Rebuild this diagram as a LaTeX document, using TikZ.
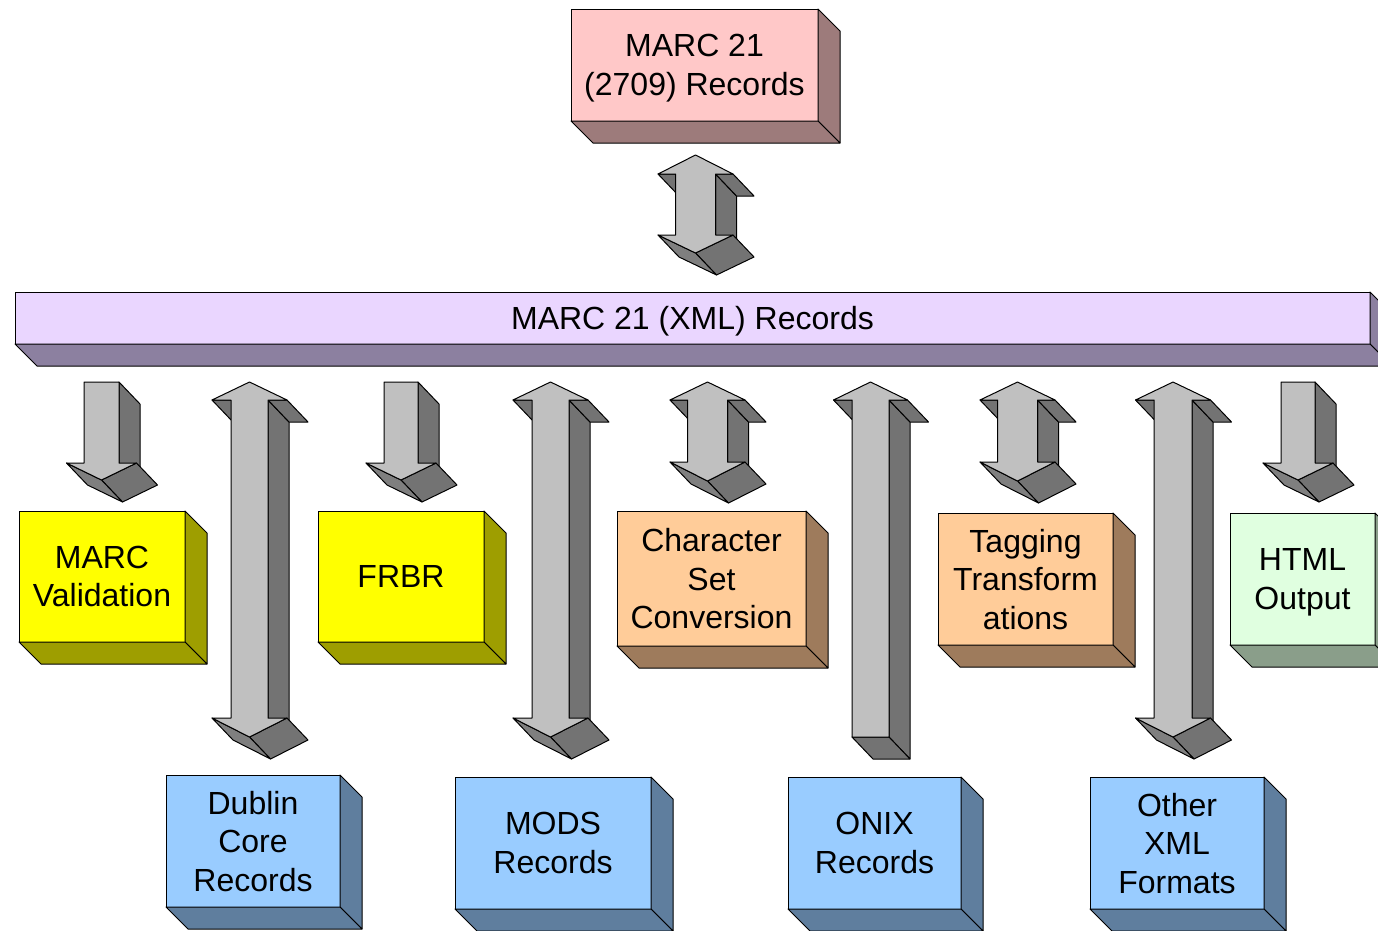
\documentclass[tikz,border=0pt]{standalone}
\usepackage{fontspec}
\setmainfont{Liberation Sans}

% fronts and shaded sides of the 3D blocks
\definecolor{pinkF}{HTML}{FFC8C8}\definecolor{pinkS}{HTML}{9D7B7B}
\definecolor{lilacF}{HTML}{EAD6FF}\definecolor{lilacS}{HTML}{8C80A0}
\definecolor{yellowF}{HTML}{FFFF00}\definecolor{yellowS}{HTML}{9E9E00}
\definecolor{orangeF}{HTML}{FFCC99}\definecolor{orangeS}{HTML}{9E7B5C}
\definecolor{mintF}{HTML}{E0FFE0}\definecolor{mintS}{HTML}{8A9E8A}
\definecolor{blueF}{HTML}{99CCFF}\definecolor{blueS}{HTML}{5F7E9E}
\definecolor{arrowF}{HTML}{C0C0C0}\definecolor{arrowS}{HTML}{737373}
\definecolor{arrowT}{HTML}{7F7F7F}

% depth of the extrusion
\def\dx{21}
\def\dy{22}

% two-headed block arrow: cx, shaft half width, head half width, top tip, top base, bottom base, bottom tip
\newcommand\blocktwoway[7]{%
  \path[aside] ({#1+#2},#5) -- ({#1+#2},#6) -- ({#1+#2+\dx},{#6+\dy}) -- ({#1+#2+\dx},{#5+\dy}) -- cycle;
  \path[aside] ({#1+#3},#5) -- ({#1+#2},#5) -- ({#1+#2+\dx},{#5+\dy}) -- ({#1+#3+\dx},{#5+\dy}) -- cycle;
  \path[aside] ({#1-#2},#5) -- ({#1-#3},#5) -- ({#1-#3+\dx},{#5+\dy}) -- ({#1-#2+\dx},{#5+\dy}) -- cycle;
  \path[aside] ({#1+#3},#6) -- (#1,#7) -- ({#1+\dx},{#7+\dy}) -- ({#1+#3+\dx},{#6+\dy}) -- cycle;
  \path[atilt] (#1,#7) -- ({#1-#3},#6) -- ({#1-#3+\dx},{#6+\dy}) -- ({#1+\dx},{#7+\dy}) -- cycle;
  \path[afront] (#1,#4) -- ({#1+#3},#5) -- ({#1+#2},#5) -- ({#1+#2},#6) -- ({#1+#3},#6)
    -- (#1,#7) -- ({#1-#3},#6) -- ({#1-#2},#6) -- ({#1-#2},#5) -- ({#1-#3},#5) -- cycle;
}
% downward block arrow: cx, shaft half width, head half width, top, head base, tip
\newcommand\blockdown[6]{%
  \path[aside] ({#1+#2},#4) -- ({#1+#2},#5) -- ({#1+#2+\dx},{#5+\dy}) -- ({#1+#2+\dx},{#4+\dy}) -- cycle;
  \path[aside] ({#1+#3},#5) -- (#1,#6) -- ({#1+\dx},{#6+\dy}) -- ({#1+#3+\dx},{#5+\dy}) -- cycle;
  \path[atilt] (#1,#6) -- ({#1-#3},#5) -- ({#1-#3+\dx},{#5+\dy}) -- ({#1+\dx},{#6+\dy}) -- cycle;
  \path[afront] ({#1-#2},#4) -- ({#1+#2},#4) -- ({#1+#2},#5) -- ({#1+#3},#5) -- (#1,#6)
    -- ({#1-#3},#5) -- ({#1-#2},#5) -- cycle;
}
% upward block arrow: cx, shaft half width, head half width, tip, head base, bottom
\newcommand\blockup[6]{%
  \path[aside] ({#1+#2},#5) -- ({#1+#2},#6) -- ({#1+#2+\dx},{#6+\dy}) -- ({#1+#2+\dx},{#5+\dy}) -- cycle;
  \path[aside] ({#1-#2},#6) -- ({#1+#2},#6) -- ({#1+#2+\dx},{#6+\dy}) -- ({#1-#2+\dx},{#6+\dy}) -- cycle;
  \path[aside] ({#1+#3},#5) -- ({#1+#2},#5) -- ({#1+#2+\dx},{#5+\dy}) -- ({#1+#3+\dx},{#5+\dy}) -- cycle;
  \path[aside] ({#1-#2},#5) -- ({#1-#3},#5) -- ({#1-#3+\dx},{#5+\dy}) -- ({#1-#2+\dx},{#5+\dy}) -- cycle;
  \path[afront] (#1,#4) -- ({#1+#3},#5) -- ({#1+#2},#5) -- ({#1+#2},#6) -- ({#1-#2},#6)
    -- ({#1-#2},#5) -- ({#1-#3},#5) -- cycle;
}
% right and bottom faces of a block node
\newcommand\blockdepth[2]{%
  \path[edge,fill=#2] (#1.north east) -- ([shift={(22,22)}]#1.north east)
    -- ([shift={(22,22)}]#1.south east) -- (#1.south east) -- cycle;
  \path[edge,fill=#2] (#1.south west) -- (#1.south east)
    -- ([shift={(22,22)}]#1.south east) -- ([shift={(22,22)}]#1.south west) -- cycle;
}

\begin{document}
\begin{tikzpicture}[x=1pt,y=-1pt,
  edge/.style={draw=black,line width=1pt,line join=round},
  block/.style={edge,inner sep=0pt,outer sep=0pt,align=center,text depth=0pt,
    font=\fontsize{32}{38.5}\selectfont},
  afront/.style={edge,fill=arrowF},
  aside/.style={edge,fill=arrowS},
  atilt/.style={edge,fill=arrowT}]
\useasboundingbox (0,0) rectangle (1378,930);
\clip (0,0) rectangle (1378,930);

% top record block and the XML bar
\node[block,fill=pinkF,minimum width=247pt,minimum height=112pt] (marc) at (694.5,65) {MARC 21\\(2709) Records};
\blockdepth{marc}{pinkS}
\node[block,fill=lilacF,minimum width=1355pt,minimum height=52pt] (xml) at (692.5,318) {MARC 21 (XML) Records};
\blockdepth{xml}{lilacS}

% middle row
\node[block,fill=yellowF,minimum width=166pt,minimum height=131pt] (valid) at (102,576.5) {MARC\\Validation};
\blockdepth{valid}{yellowS}
\node[block,fill=yellowF,minimum width=166pt,minimum height=131pt] (frbr) at (401,576.5) {FRBR};
\blockdepth{frbr}{yellowS}
\node[block,fill=orangeF,minimum width=189pt,minimum height=135pt] (charset) at (711.5,578.5) {Character\\Set\\Conversion};
\blockdepth{charset}{orangeS}
\node[block,fill=orangeF,minimum width=175pt,minimum height=132pt] (tagging) at (1025.5,579) {Tagging\\Transform\\ations};
\blockdepth{tagging}{orangeS}
\node[block,fill=mintF,minimum width=145pt,minimum height=132pt] (html) at (1302.5,579) {HTML\\Output};
\blockdepth{html}{mintS}

% bottom row
\node[block,fill=blueF,minimum width=174pt,minimum height=132pt] (dc) at (253,841) {Dublin\\Core\\Records};
\blockdepth{dc}{blueS}
\node[block,fill=blueF,minimum width=196pt,minimum height=132pt] (mods) at (553,843) {MODS\\Records};
\blockdepth{mods}{blueS}
\node[block,fill=blueF,minimum width=173pt,minimum height=132pt] (onix) at (874.5,843) {ONIX\\Records};
\blockdepth{onix}{blueS}
\node[block,fill=blueF,minimum width=174pt,minimum height=132pt] (other) at (1177,843) {Other\\XML\\Formats};
\blockdepth{other}{blueS}

% block arrows
\blocktwoway{695.5}{20}{37.5}{155}{174}{235}{253}
\blockdown{101.5}{17.5}{35}{382}{463}{480}
\blocktwoway{249.5}{18.5}{37.5}{382}{400}{718}{737}
\blockdown{401}{17}{35}{382}{463}{480}
\blocktwoway{550.5}{18.5}{37.5}{382}{400}{718}{737}
\blocktwoway{707.5}{20}{37.5}{382}{400}{462}{481}
\blockup{870.5}{18.5}{37}{382}{400}{737}
\blocktwoway{1017.5}{20}{37.5}{382}{400}{462}{481}
\blocktwoway{1173}{19}{37.5}{382}{400}{718}{737}
\blockdown{1298}{17}{35}{382}{463}{480}
\end{tikzpicture}
\end{document}
